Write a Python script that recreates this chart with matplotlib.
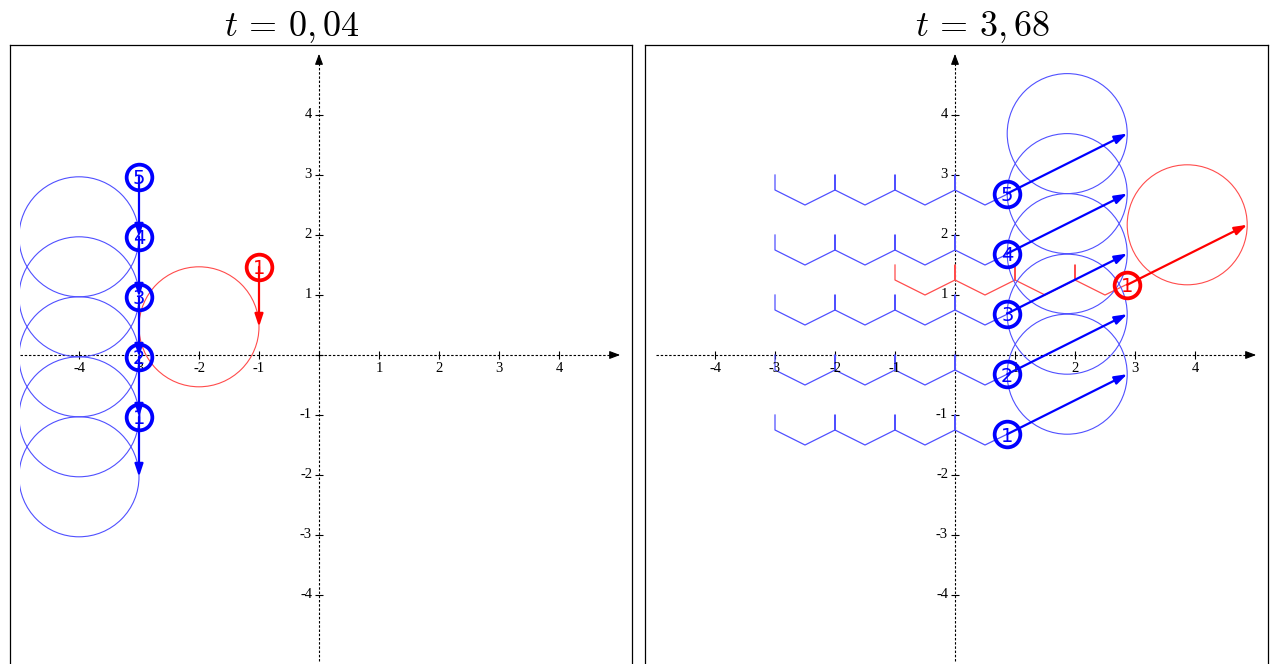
import matplotlib
matplotlib.use("Agg")
import matplotlib.pyplot as plt
from matplotlib.patches import FancyArrowPatch, Circle, Rectangle

plt.rcParams["mathtext.fontset"] = "cm"

# Data.
titles = [r"$t\,=\,0,04$", r"$t\,=\,3,68$"]
marker_labels = ["1", "2", "3", "4", "5"]

left_blue_x = [-3.0, -3.0, -3.0, -3.0, -3.0]
left_blue_y = [-1.03, -0.03, 0.97, 1.97, 2.97]
left_red_xy = (-1.0, 1.47)
left_vec = (0.0, -1.0)

right_blue_x = [0.87, 0.87, 0.87, 0.87, 0.87]
right_blue_y = [-1.32, -0.32, 0.69, 1.69, 2.69]
right_red_xy = (2.87, 1.17)
right_vec = (2.0, 1.0)

radius = 1.0

# Trail of each blue point (right panel), relative to row baseline.
trail_x = [-3.0, -3.0, -2.5, -2.0, -2.0, -2.0, -1.5, -1.0, -1.0, -1.0,
           -0.5, 0.0, 0.0, 0.0, 0.5, 0.87]
trail_dy = [0.0, -0.25, -0.5, -0.25, 0.0, -0.25, -0.5, -0.25, 0.0, -0.25,
            -0.5, -0.25, 0.0, -0.25, -0.5, -0.32]
blue_rows = [-1.0, 0.0, 1.0, 2.0, 3.0]
red_row = 1.5
red_shift = 2.0

ticks = [-4, -3, -2, -1, 1, 2, 3, 4]

BLUE = "#0000ff"
LBLUE = "#5050ff"
RED = "#ff0000"
LRED = "#ff4c4c"

W, H = 1272, 664
fig = plt.figure(figsize=(W / 100, H / 100), dpi=100)

# pixel layout: frame left, origin x, frame width, title centre
panels = [(10, 319, 622, 292), (645, 955, 623, 983)]
top, origin_y, size, unit = 45, 355, 622, 60.0


def arrow(ax, p, v, color, lw=1.6):
    a = FancyArrowPatch(p, (p[0] + v[0], p[1] + v[1]),
                        arrowstyle="-|>,head_length=0.75,head_width=0.25",
                        mutation_scale=10, color=color, lw=lw,
                        shrinkA=0, shrinkB=0, zorder=4)
    ax.add_patch(a)


def marker(ax, x, y, label, color):
    ax.plot(x, y, "o", ms=18.5, mfc="none", mec=color, mew=2.7, zorder=6)
    ax.text(x, y, label, color=color, fontsize=14, ha="center",
            va="center_baseline", family="DejaVu Sans", zorder=7)


def draw_axes(ax):
    ax.plot([-4.98, 4.92], [0, 0], color="black", lw=0.8,
            linestyle=(0, (2.2, 1.6)), zorder=1)
    ax.plot([0, 0], [-5.1, 4.92], color="black", lw=0.8,
            linestyle=(0, (2.2, 1.6)), zorder=1)
    for p, q in [((4.85, 0), (5.02, 0)), ((0, 4.85), (0, 5.02))]:
        ax.add_patch(FancyArrowPatch(p, q, arrowstyle="-|>,head_length=0.8,head_width=0.3",
                                     mutation_scale=8, color="black", lw=0.8,
                                     shrinkA=0, shrinkB=0, zorder=1))
    ax.plot(ticks + [0], [0] * (len(ticks) + 1), "|", ms=6, mew=0.8,
            color="black", zorder=1)
    ax.plot([0] * (len(ticks) + 1), ticks + [0], "_", ms=6, mew=0.8,
            color="black", zorder=1)
    for k in ticks:
        ax.annotate(str(k), (k, 0), xytext=(0, -10), textcoords="offset points",
                    ha="center", va="center", fontsize=10.5, family="Liberation Serif")
        ax.annotate(str(k), (0, k), xytext=(-5, 0), textcoords="offset points",
                    ha="right", va="center", fontsize=10.5, family="Liberation Serif")


def circle(ax, tip, color):
    c = Circle((tip[0] - radius, tip[1]), radius, fill=False, ec=color,
               lw=0.8, zorder=2)
    ax.add_patch(c)
    clip = Rectangle((-4.98, -5.2), 10.2, 10.4, transform=ax.transData)
    c.set_clip_path(clip)


axes = []
for (fx, ox, fw, tx), title in zip(panels, titles):
    ax = fig.add_axes([fx / W, (H - top - size) / H, fw / W, size / H])
    ax.set_xlim((fx - ox) / unit, (fx + fw - ox) / unit)
    ax.set_ylim((origin_y - top - size) / unit, (origin_y - top) / unit)
    ax.set_xticks([])
    ax.set_yticks([])
    for s in ax.spines.values():
        s.set_linewidth(0.9)
    draw_axes(ax)
    fig.text(tx / W, 1 - 36 / H, title, ha="center", va="baseline", fontsize=26)
    axes.append(ax)

# Left panel, t = 0,04
ax = axes[0]
tip = (left_red_xy[0] + left_vec[0], left_red_xy[1] + left_vec[1])
circle(ax, tip, LRED)
arrow(ax, left_red_xy, left_vec, RED)
marker(ax, left_red_xy[0], left_red_xy[1], "1", RED)
for x, y, lab in zip(left_blue_x, left_blue_y, marker_labels):
    circle(ax, (x + left_vec[0], y + left_vec[1]), LBLUE)
for x, y, lab in zip(left_blue_x, left_blue_y, marker_labels):
    arrow(ax, (x, y), left_vec, BLUE)
for x, y, lab in zip(left_blue_x, left_blue_y, marker_labels):
    marker(ax, x, y, lab, BLUE)

# Right panel, t = 3,68
ax = axes[1]
for base in blue_rows:
    ax.plot(trail_x, [base + d for d in trail_dy], color=LBLUE, lw=0.9, zorder=2)
ax.plot([x + red_shift for x in trail_x], [red_row + d for d in trail_dy],
        color=LRED, lw=0.9, zorder=2)
for x, y in zip(right_blue_x, right_blue_y):
    circle(ax, (x + right_vec[0], y + right_vec[1]), LBLUE)
tip = (right_red_xy[0] + right_vec[0], right_red_xy[1] + right_vec[1])
circle(ax, tip, LRED)
for x, y in zip(right_blue_x, right_blue_y):
    arrow(ax, (x, y), right_vec, BLUE)
arrow(ax, right_red_xy, right_vec, RED)
for x, y, lab in zip(right_blue_x, right_blue_y, marker_labels):
    marker(ax, x, y, lab, BLUE)
marker(ax, right_red_xy[0], right_red_xy[1], "1", RED)

fig.savefig("out.png", dpi=100)
